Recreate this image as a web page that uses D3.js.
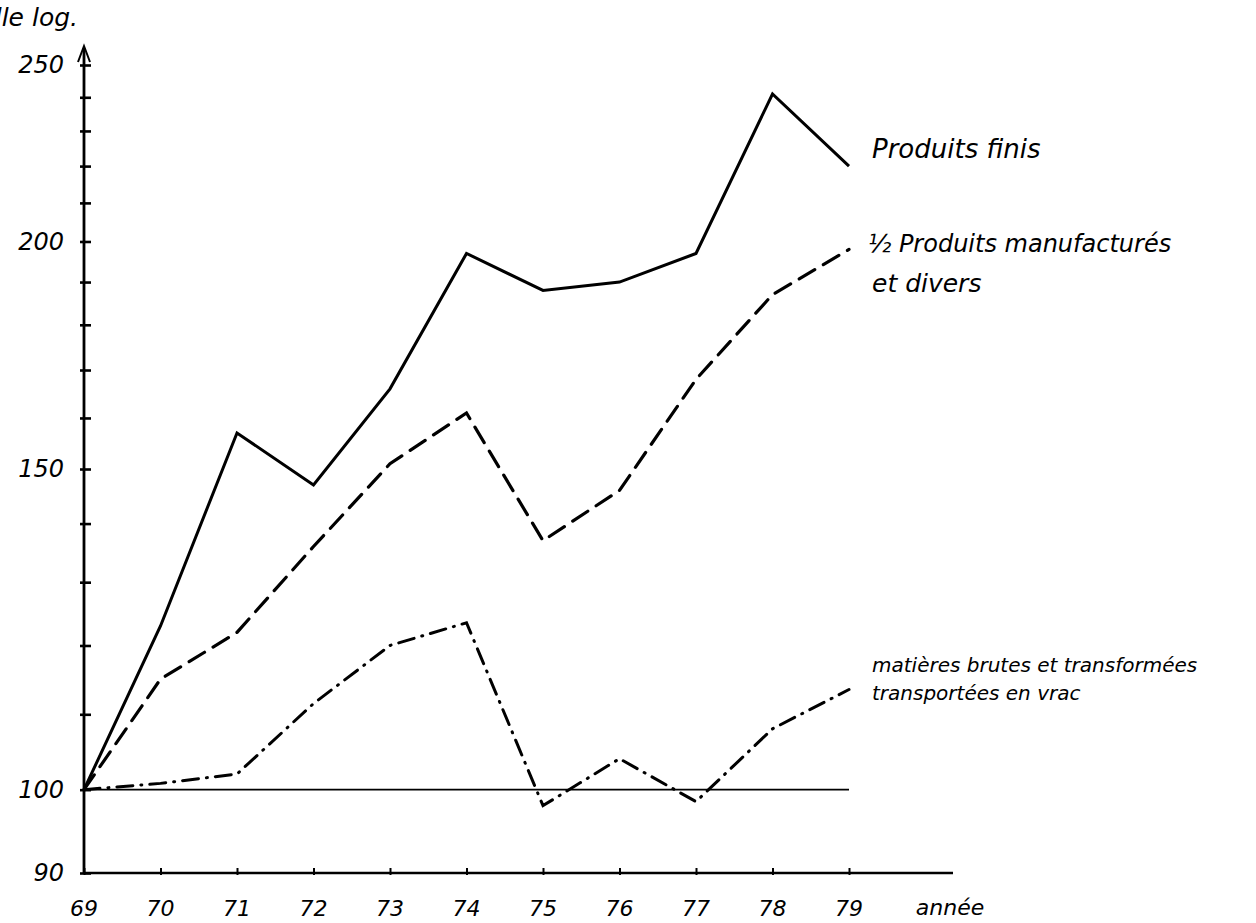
<!DOCTYPE html>
<html>
<head>
<meta charset="utf-8">
<script src="https://cdn.jsdelivr.net/npm/d3@7/dist/d3.min.js"></script>
<style>
  html, body { margin: 0; padding: 0; background: #fff; }
  svg text { font-family: "DejaVu Sans", sans-serif; font-style: italic; fill: #000; }
</style>
</head>
<body>
<svg id="chart" width="1256" height="923"></svg>
<script>
// ---- data ----
const years = [69, 70, 71, 72, 73, 74, 75, 76, 77, 78, 79];
const yearLabels = ["69", "70", "71", "72", "73", "74", "75", "76", "77", "78", "79"];
const produitsFinis = [100, 123, 157, 147, 166, 197, 188, 190, 197, 241, 220];
const produitsManufactures = [100, 115, 122, 136, 151, 161, 137, 146, 168, 187, 198];
const matieresBrutes = [100, 100.8, 102, 111.5, 120, 123.5, 98, 104, 98.5, 108, 113.5];
const yMinorTicks = [90, 100, 110, 120, 130, 140, 150, 160, 170, 180, 190, 200, 210, 220, 230, 240, 250];
const yTickLabels = [90, 100, 150, 200, 250];
const seriesNames = ["Produits finis", "½ Produits manufacturés", "et divers",
  "matières brutes et transformées", "transportées en vrac"];

// ---- scales ----
const svg = d3.select("#chart");
const x = d3.scaleLinear().domain([69, 79]).range([84, 849]);
const y = d3.scaleLog().domain([90, 250]).range([873, 65]);

const g = svg.append("g");

// y axis line with arrow
g.append("line").attr("x1", x(69)).attr("x2", x(69)).attr("y1", y(90)).attr("y2", 48)
  .attr("stroke", "#000").attr("stroke-width", 2.8);
g.append("path").attr("d", `M${x(69)-6},62 L${x(69)},46 L${x(69)+6},62`)
  .attr("fill", "none").attr("stroke", "#000").attr("stroke-width", 2);
// x axis line
g.append("line").attr("x1", x(69)).attr("x2", 953).attr("y1", y(90)).attr("y2", y(90))
  .attr("stroke", "#000").attr("stroke-width", 2.4);

// y ticks via d3 axis
const yAxis = d3.axisLeft(y).tickValues(yMinorTicks).tickSize(5).tickFormat("");
const ya = g.append("g").attr("transform", `translate(${x(69)+3},0)`).call(yAxis);
ya.select(".domain").remove();
ya.selectAll(".tick line").attr("stroke-width", 2.6).attr("x2", -7).attr("x1", 4);

g.selectAll(".ylab").data(yTickLabels).join("text")
  .attr("class", "ylab")
  .attr("x", 64).attr("y", d => y(d)).attr("dy", "0.35em")
  .attr("text-anchor", "end").attr("font-size", 24)
  .text(d => d);

// x ticks via d3 axis
const xAxis = d3.axisBottom(x).tickValues(years).tickSize(4).tickFormat("");
const xa = g.append("g").attr("transform", `translate(0,${y(90)-2})`).call(xAxis);
xa.select(".domain").remove();
xa.selectAll(".tick line").attr("stroke-width", 2).attr("y1", -3);

g.selectAll(".xlab").data(years).join("text")
  .attr("class", "xlab")
  .attr("x", d => x(d)).attr("y", 916)
  .attr("text-anchor", "middle").attr("font-size", 22)
  .text((d, i) => yearLabels[i]);
g.append("text").attr("x", 950).attr("y", 915).attr("text-anchor", "middle")
  .attr("font-size", 22).text("année");

// axis title (cut at left edge, as in the reference)
g.append("text").attr("x", 78).attr("y", 26).attr("text-anchor", "end")
  .attr("font-size", 25).text("échelle log.");

// reference line at 100
g.append("line").attr("x1", x(69)).attr("x2", x(79)).attr("y1", y(100)).attr("y2", y(100))
  .attr("stroke", "#000").attr("stroke-width", 1.6);

// ---- series ----
const line = d3.line().x((d, i) => x(years[i])).y(d => y(d));
g.append("path").datum(produitsFinis).attr("d", line)
  .attr("fill", "none").attr("stroke", "#000").attr("stroke-width", 3)
  .attr("stroke-linejoin", "miter");
g.append("path").datum(produitsManufactures).attr("d", line)
  .attr("fill", "none").attr("stroke", "#000").attr("stroke-width", 3.2)
  .attr("stroke-dasharray", "18,10").attr("stroke-linecap", "round");
g.append("path").datum(matieresBrutes).attr("d", line)
  .attr("fill", "none").attr("stroke", "#000").attr("stroke-width", 3)
  .attr("stroke-dasharray", "16,8,1,8").attr("stroke-linecap", "round");

// ---- labels ----
const labels = [
  {t: seriesNames[0], x: 872, y: 158, fs: 26},
  {t: seriesNames[1], x: 868, y: 252, fs: 24},
  {t: seriesNames[2], x: 872, y: 292, fs: 25},
  {t: seriesNames[3], x: 872, y: 672, fs: 20},
  {t: seriesNames[4], x: 872, y: 700, fs: 20}
];
g.selectAll(".slab").data(labels).join("text")
  .attr("class", "slab")
  .attr("x", d => d.x).attr("y", d => d.y)
  .attr("font-size", d => d.fs)
  .text(d => d.t);
</script>
</body>
</html>
